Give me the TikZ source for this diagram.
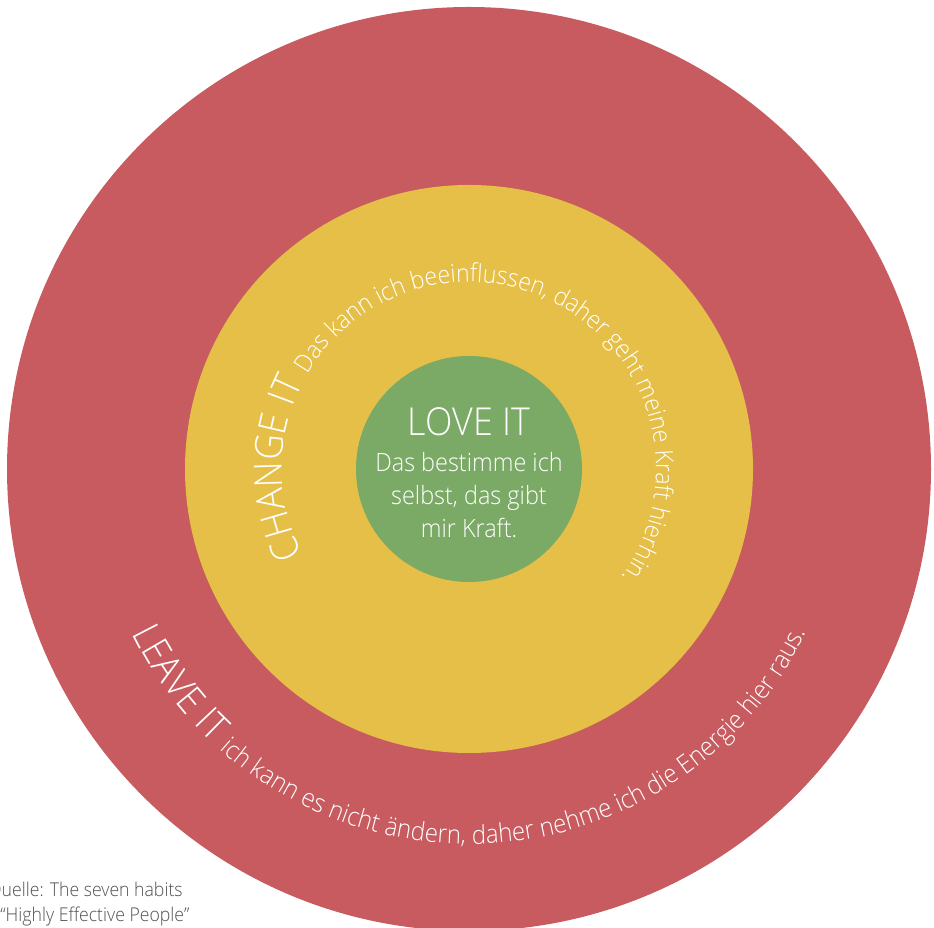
\documentclass[tikz,border=0pt]{standalone}
\usepackage{fontspec}
\usetikzlibrary{decorations.text}
\newfontfamily\lightfont{Open Sans Light}[FakeStretch=0.93]
\definecolor{ringred}{HTML}{C75B5F}
\definecolor{ringyellow}{HTML}{E5BF47}
\definecolor{ringgreen}{HTML}{7BA966}
\definecolor{srcgray}{HTML}{505050}
\tikzset{
  bigtitle/.style={text=white, font=\lightfont\fontsize{38.5}{42}\selectfont, inner sep=0pt},
  bodytext/.style={text=white, font=\lightfont\fontsize{25.2}{28}\selectfont, inner sep=0pt},
  srctext/.style={text=srcgray, font=\lightfont\fontsize{19}{22}\selectfont, inner sep=0pt, anchor=base west},
}
\begin{document}
\begin{tikzpicture}[x=1pt,y=1pt]
\useasboundingbox (0,0) rectangle (934,928);
\clip (0,0) rectangle (934,928);
\coordinate (c) at (469,459);
\fill[ringred] (c) circle[radius=462pt];
\fill[ringyellow] (c) circle[radius=284pt];
\fill[ringgreen] (c) circle[radius=113pt];
% inner texts
\node[bigtitle, anchor=base] (love) at (469,492) {LOVE IT};
\node[bodytext, anchor=base] (l1) at (469,456) {Das bestimme ich};
\node[bodytext, anchor=base] (l2) at (469,423) {selbst, das gibt};
\node[bodytext, anchor=base] (l3) at (469,390) {mir Kraft.};
% change it arc
\coordinate (cstart) at ([shift={(207:187pt)}]c);
\path[decorate, decoration={text along path, text color=white,
  text={|\lightfont\fontsize{38.5}{42}\selectfont|CHANGE IT |\lightfont\fontsize{24.8}{26}\selectfont|Das kann ich beeinflussen, daher geht meine Kraft hierhin.}}]
  (cstart) arc[start angle=207, end angle=-80, radius=187pt];
% leave it arc
\coordinate (lstart) at ([shift={(206:375pt)}]c);
\path[decorate, decoration={text along path, text color=white,
  text={|\lightfont\fontsize{38.5}{42}\selectfont|LEAVE IT |\lightfont\fontsize{25.8}{28}\selectfont|ich kann es nicht ändern, daher nehme ich die Energie hier raus.}}]
  (lstart) arc[start angle=206, end angle=360, radius=375pt];
% source
\node[srctext] (src1) at (-12,31) {Quelle: The seven habits};
\node[srctext] (src2) at (-20,6) {of “Highly Effective People”};
\end{tikzpicture}
\end{document}
